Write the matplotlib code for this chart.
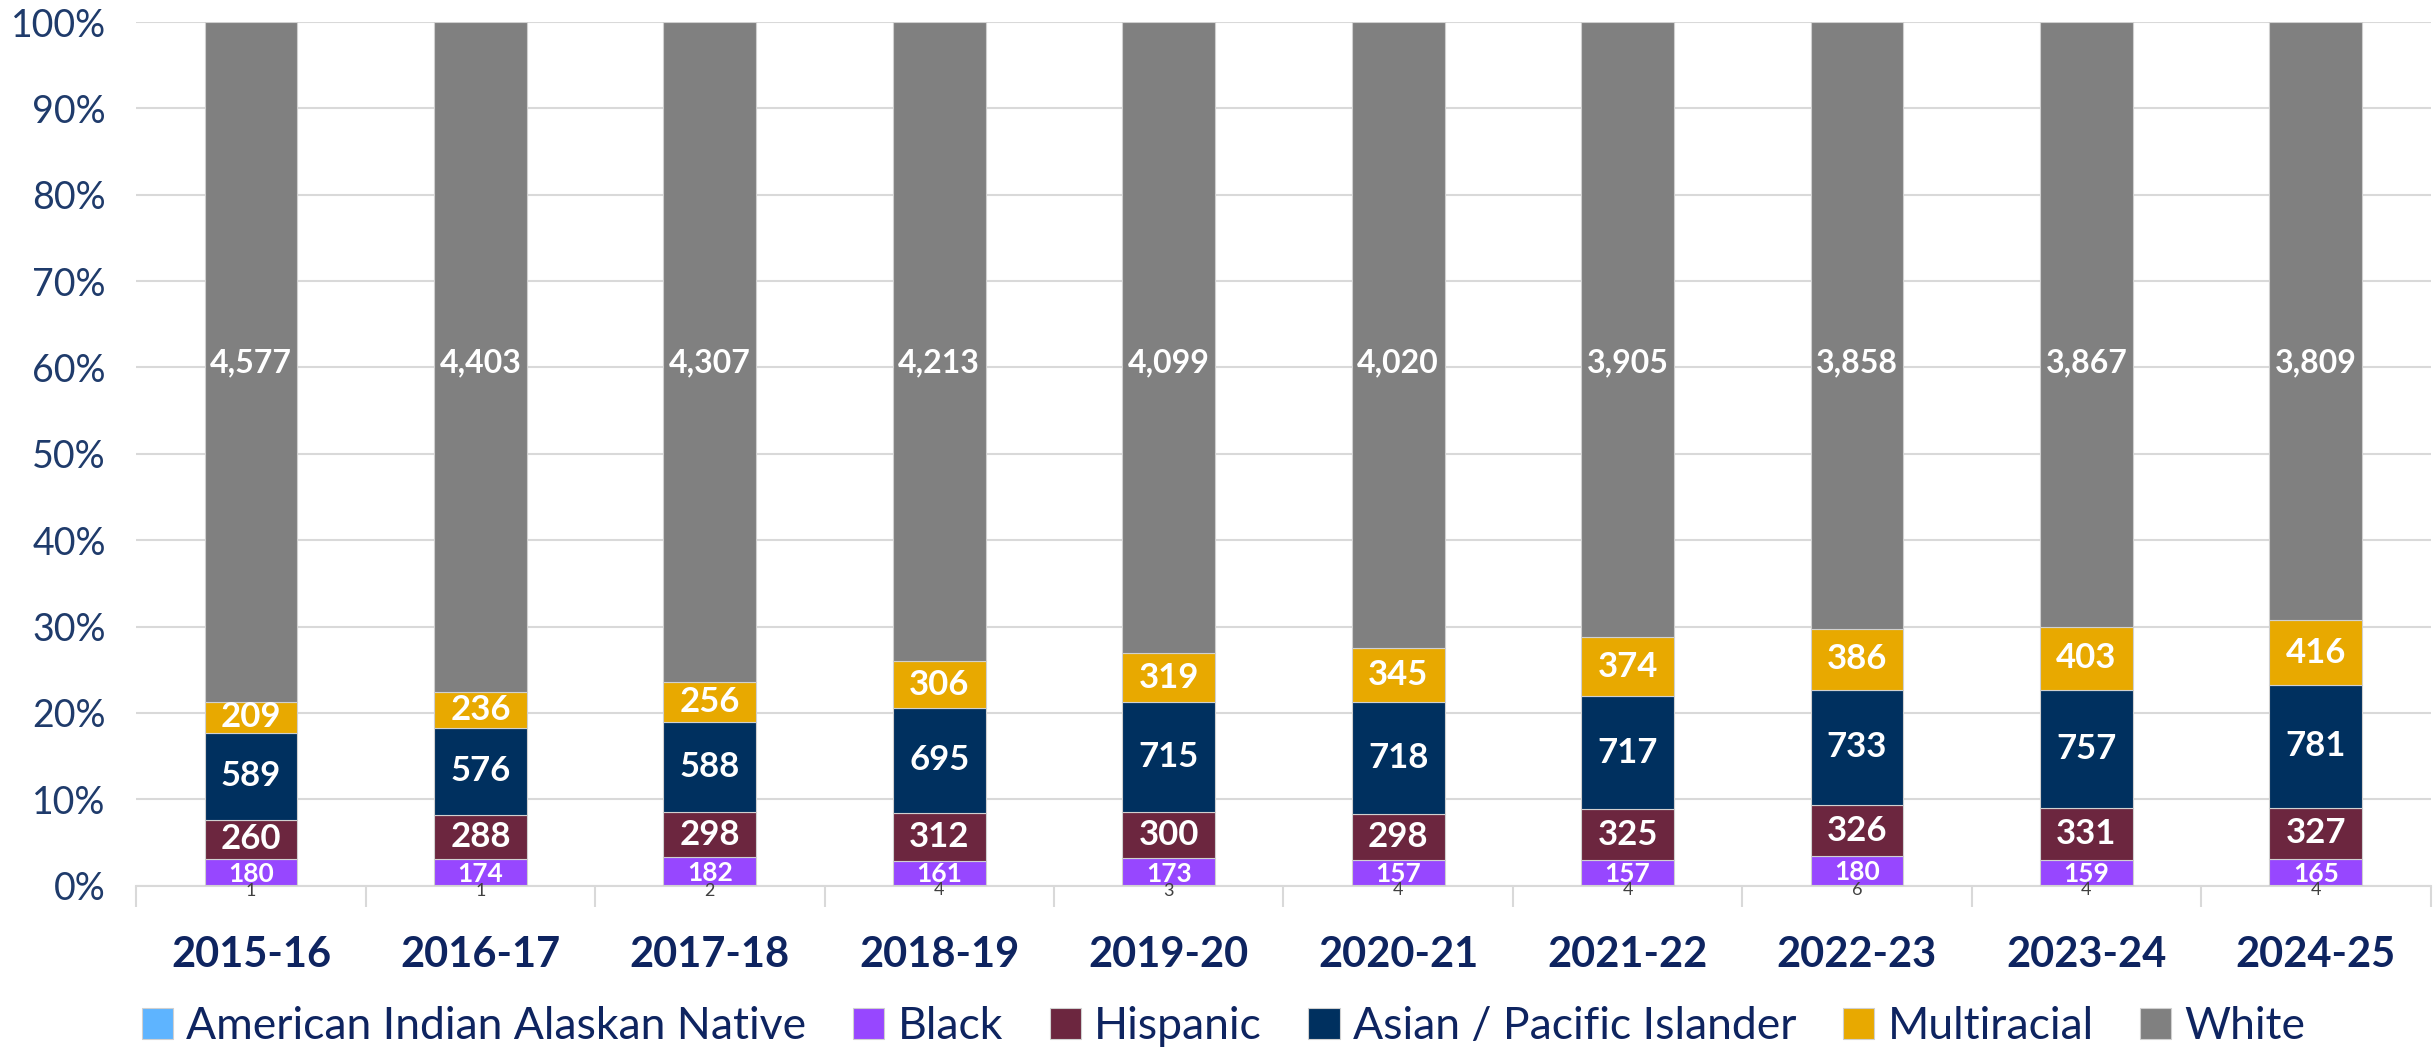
import numpy as np
import matplotlib.pyplot as plt

plt.rcParams['font.family'] = ['Lato', 'DejaVu Sans']

years = ['2015-16', '2016-17', '2017-18', '2018-19', '2019-20',
         '2020-21', '2021-22', '2022-23', '2023-24', '2024-25']
aian = [1, 1, 2, 4, 3, 4, 4, 6, 4, 4]
black = [180, 174, 182, 161, 173, 157, 157, 180, 159, 165]
hispanic = [260, 288, 298, 312, 300, 298, 325, 326, 331, 327]
asian = [589, 576, 588, 695, 715, 718, 717, 733, 757, 781]
multi = [209, 236, 256, 306, 319, 345, 374, 386, 403, 416]
white = [4577, 4403, 4307, 4213, 4099, 4020, 3905, 3858, 3867, 3809]

names = ['American Indian Alaskan Native', 'Black', 'Hispanic',
         'Asian / Pacific Islander', 'Multiracial', 'White']
colors = ['#5eb4ff', '#9747ff', '#6c263f', '#00305f', '#e8a900', '#808080']
series = [aian, black, hispanic, asian, multi, white]

navy = '#0e2460'
data = np.array(series, dtype=float)
totals = data.sum(axis=0)
shares = data / totals

fig = plt.figure(figsize=(24.33, 10.53), dpi=100)
ax = fig.add_axes([0.056, 0.159, 0.943, 0.82])
x = np.arange(len(years))
bottom = np.zeros(len(years))
for i, (name, col) in enumerate(zip(names, colors)):
    ax.bar(x, shares[i], 0.405, bottom=bottom, color=col, label=name,
           edgecolor='#d0d0d0', linewidth=0.8, zorder=3)
    for j in range(len(years)):
        lab = f'{int(data[i, j]):,}'
        mid = bottom[j] + shares[i, j] / 2
        if i == 0:
            # tiny segment, label sits on the axis line
            ax.text(x[j], mid - 0.006, lab, ha='center', va='center',
                    color='#404040', fontsize=13, zorder=5)
        elif i == 1:
            ax.text(x[j], mid - 0.002, lab, ha='center', va='center',
                    color='white', fontsize=19, fontweight='bold', zorder=5)
        elif i == 5:
            ax.text(x[j], 0.605, lab, ha='center', va='center',
                    color='white', fontsize=23, fontweight='bold', zorder=5)
        else:
            ax.text(x[j], mid, lab, ha='center', va='center',
                    color='white', fontsize=25, fontweight='bold', zorder=5)
    bottom += shares[i]

ax.set_xlim(-0.5, len(years) - 0.5)
ax.set_ylim(0, 1)
ticks = np.arange(0, 1.01, 0.1)
ax.set_yticks(ticks)
ax.set_yticklabels([f'{int(round(v * 100))}%' for v in ticks],
                   fontsize=27, color='#1f3b6b')
ax.yaxis.grid(True, color='#d9d9d9', linewidth=1.5, zorder=0)
ax.tick_params(axis='y', length=0, pad=22)

ax.set_xticks(x)
ax.set_xticklabels(years, fontsize=30, fontweight='bold', color=navy)
ax.tick_params(axis='x', length=0, pad=36)
ax.set_xticks(np.arange(-0.5, len(years)), minor=True)
ax.tick_params(axis='x', which='minor', length=15, width=1.5, color='#d9d9d9')

for s in ['top', 'right', 'left']:
    ax.spines[s].set_visible(False)
ax.spines['bottom'].set_color('#d9d9d9')
ax.spines['bottom'].set_linewidth(1.5)

fig.legend(loc='center', bbox_to_anchor=(0.503, 0.025), ncol=6, frameon=False,
           fontsize=32, labelcolor=navy, handlelength=0.7, handleheight=0.7,
           handletextpad=0.3, columnspacing=1.05)

fig.savefig('out.png', dpi=100)
